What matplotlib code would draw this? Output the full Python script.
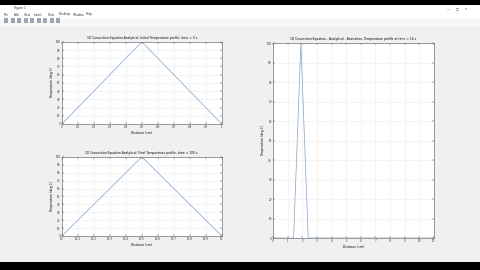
import matplotlib
matplotlib.use("Agg")
import matplotlib.pyplot as plt
from matplotlib.patches import Rectangle

# --- data ---
init_x = [0, 0.5, 1]
init_T = [0, 100, 0]

final_x = [10, 10.5, 11]
final_T = [0, 100, 0]

anim_x = [0, 1.4, 1.9, 2.4, 11]
anim_T = [0, 0, 100, 0, 0]

menu_items = ["File", "Edit", "View", "Insert", "Tools", "Desktop", "Window", "Help"]

LINE_C = "#7ea3cc"
FS = 2.2

fig = plt.figure(figsize=(4.8, 2.7), dpi=100, facecolor="black")

# window chrome (screenshot of a MATLAB figure window)
fig.patches.append(Rectangle((0, 8 / 270), 1, 257 / 270, transform=fig.transFigure,
                             facecolor="#f0f0f0", edgecolor="none", zorder=-10))
fig.patches.append(Rectangle((0, 251 / 270), 1, 14 / 270, transform=fig.transFigure,
                             facecolor="white", edgecolor="none", zorder=-9))
fig.patches.append(Rectangle((0, 243 / 270), 1, 8 / 270, transform=fig.transFigure,
                             facecolor="#f7f7f7", edgecolor="none", zorder=-9))
fig.text(14 / 480, 1 - 8.5 / 270, "Figure 1", fontsize=FS, va="center", color="#333333")
fig.text(447 / 480, 1 - 8.5 / 270, "\u2014      \u25a1      \u00d7", fontsize=FS, va="center", color="#444444")
xpos = 4
for m in menu_items:
    fig.text(xpos / 480, 1 - 14.5 / 270, m, fontsize=FS, va="center", color="#333333")
    xpos += len(m) * 1.5 + 4
for i in range(9):
    fig.patches.append(Rectangle(((4 + i * 6.5) / 480, 1 - 23 / 270), 4 / 480, 5 / 270,
                                 transform=fig.transFigure, facecolor="#9aa6b2",
                                 edgecolor="none", zorder=-8))


def style(ax, xticks, xlabels, title):
    ax.set_facecolor("white")
    ax.set_title(title, fontsize=FS, pad=2)
    ax.set_xlabel("Distance (cm)", fontsize=FS, labelpad=1)
    ax.set_ylabel("Temperature (deg C)", fontsize=FS, labelpad=1)
    ax.set_xticks(xticks)
    ax.set_xticklabels(xlabels)
    ax.set_yticks(range(0, 101, 10))
    ax.set_ylim(0, 100)
    ax.tick_params(labelsize=FS - 0.2, length=1.2, width=0.3, pad=1,
                   direction="in", top=True, right=True, colors="#333333")
    ax.grid(True, color="#ececec", linewidth=0.4)
    ax.set_axisbelow(True)
    for s in ax.spines.values():
        s.set_linewidth(0.4)
        s.set_color("#555555")


ax1 = fig.add_axes([0.129, 0.541, 0.333, 0.304])
ax1.plot(init_x, init_T, color=LINE_C, linewidth=0.5)
ax1.set_xlim(0, 1)
t1 = [i / 10 for i in range(11)]
style(ax1, t1, ["0"] + [f"{v:.1f}" for v in t1[1:-1]] + ["1"],
      "1D Convection Equation-Analytical, Initial Temperature profile, time = 0 s")

ax2 = fig.add_axes([0.129, 0.126, 0.333, 0.293])
ax2.plot(final_x, final_T, color=LINE_C, linewidth=0.5)
ax2.set_xlim(10, 11)
t2 = [10 + i / 10 for i in range(11)]
style(ax2, t2, ["10"] + [f"{v:.1f}" for v in t2[1:-1]] + ["11"],
      "1D Convection Equation-Analytical, Final Temperature profile, time = 100 s")

ax3 = fig.add_axes([0.569, 0.1185, 0.335, 0.722])
ax3.plot(anim_x, anim_T, color=LINE_C, linewidth=0.5)
ax3.set_xlim(0, 11)
style(ax3, range(12), [str(i) for i in range(12)],
      "1D Convection Equation - Analytical - Animation, Temperature profile at time = 14 s")

fig.savefig("out.png", dpi=100, facecolor=fig.get_facecolor())
